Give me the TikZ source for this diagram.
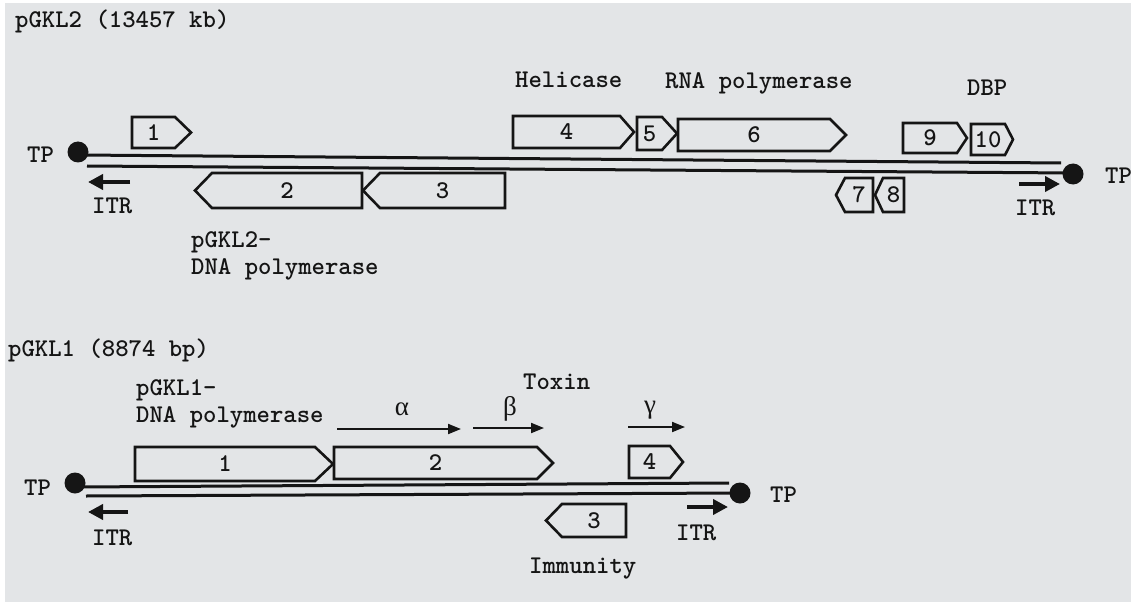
\documentclass[tikz,border=0pt]{standalone}
\usepackage{fontspec}
\usetikzlibrary{arrows.meta}
\newfontfamily\greekfont{Liberation Serif}
\definecolor{ink}{HTML}{151515}
\definecolor{paper}{HTML}{E3E5E7}
\tikzset{
  txt/.style={font=\ttfamily\bfseries\fontsize{25.5}{28}\selectfont, text=ink, inner sep=0pt, anchor=base west},
  greek/.style={font=\greekfont\fontsize{27}{30}\selectfont, text=ink, inner sep=0pt},
  genebox/.style={draw=ink, line width=2.6pt, line join=miter},
  genelabel/.style={font=\ttfamily\bfseries\fontsize{25.5}{28}\selectfont, text=ink, inner sep=0pt},
  strand/.style={draw=ink, line width=3pt},
  tpdot/.style={circle, fill=ink, inner sep=0pt, minimum size=21pt},
  itr/.style={draw=ink, line width=4.5pt, -{Triangle[length=15pt,width=15pt]}},
  orf/.style={draw=ink, line width=2pt, -{Triangle[length=13pt,width=10pt]}}
}
% forward gene: name, x left, x body end, x tip, y top, y bottom, label
\newcommand\fgene[7]{%
  \draw[genebox] (#2,#5) -- (#3,#5) -- (#4,{(#5+#6)/2}) -- (#3,#6) -- (#2,#6) -- cycle;
  \node[genelabel] (#1) at ({(#2+#3)/2},{(#5+#6)/2}) {#7};}
% reverse gene: name, x tip, x body start, x right, y top, y bottom, label
\newcommand\rgene[7]{%
  \draw[genebox] (#4,#5) -- (#3,#5) -- (#2,{(#5+#6)/2}) -- (#3,#6) -- (#4,#6) -- cycle;
  \node[genelabel] (#1) at ({(#3+#4)/2},{(#5+#6)/2}) {#7};}
\begin{document}
\begin{tikzpicture}[x=1pt,y=-1pt]
\useasboundingbox (0,0) rectangle (1131,604);
\fill[white] (0,0) rectangle (1131,604);
\fill[paper] (5,3) rectangle (1131,602);

% ================= pGKL2 =================
\node[txt] (t2) at (15,28) {pGKL2 (13457 kb)};
\node[txt] (hel) at (515,88) {Helicase};
\node[txt] (rnap) at (665,89) {RNA polymerase};
\node[txt] (dbp) at (967,96) {DBP};
\node[txt] (pol2a) at (191,247) {pGKL2-};
\node[txt] (pol2b) at (191,274) {DNA polymerase};
\node[txt] (tp2l) at (27,163) {TP};
\node[txt] (itr2l) at (92,213) {ITR};
\node[txt] (tp2r) at (1105,183) {TP};
\node[txt] (itr2r) at (1015,215) {ITR};

\node[tpdot] (d2l) at (78,152) {};
\node[tpdot] (d2r) at (1073,174) {};
\coordinate (s2ta) at (80,155);
\coordinate (s2tb) at (1061,163);
\coordinate (s2ba) at (87,166);
\coordinate (s2bb) at (1073,173);
\draw[strand] (s2ta) -- (s2tb);
\draw[strand] (s2ba) -- (s2bb);

\coordinate (i2la) at (130,182); \coordinate (i2lb) at (88,182);
\coordinate (i2ra) at (1019,184); \coordinate (i2rb) at (1060,184);
\draw[itr] (i2la) -- (i2lb);
\draw[itr] (i2ra) -- (i2rb);

\fgene{g1}{132}{175}{191}{117}{148}{1}
\fgene{g4}{513}{620}{634}{116}{148}{4}
\fgene{g5}{637}{662}{677}{117}{150}{5}
\fgene{g6}{678}{830}{846}{119}{151}{6}
\fgene{g9}{903}{957}{967}{123}{153}{9}
\fgene{g10}{971}{1005}{1013}{124}{155}{10}
\rgene{g2}{195}{212}{362}{173}{208}{2}
\rgene{g3}{363}{380}{505}{173}{208}{3}
\rgene{g7}{836}{845}{873}{178}{212}{7}
\rgene{g8}{875}{883}{904}{178}{212}{8}

% ================= pGKL1 =================
\node[txt] (t1) at (8,356) {pGKL1 (8874 bp)};
\node[txt] (pol1a) at (136,395) {pGKL1-};
\node[txt] (pol1b) at (136,422) {DNA polymerase};
\node[txt] (tox) at (523,389) {Toxin};
\node[txt] (imm) at (529,573) {Immunity};
\node[txt] (tp1l) at (24,495) {TP};
\node[txt] (itr1l) at (92,545) {ITR};
\node[txt] (tp1r) at (770,502) {TP};
\node[txt] (itr1r) at (676,540) {ITR};
\node[greek] (al) at (402,409) {α};
\node[greek] (be) at (510,409) {β};
\node[greek] (ga) at (650,410) {γ};

\coordinate (aa) at (337,429); \coordinate (ab) at (461,429);
\coordinate (ba) at (473,428); \coordinate (bb) at (544,428);
\coordinate (ca) at (628,427); \coordinate (cb) at (685,427);
\draw[orf] (aa) -- (ab);
\draw[orf] (ba) -- (bb);
\draw[orf] (ca) -- (cb);

\node[tpdot] (d1l) at (75,483) {};
\node[tpdot] (d1r) at (740,493) {};
\coordinate (s1ta) at (78,487);
\coordinate (s1tb) at (729,483);
\coordinate (s1ba) at (86,496);
\coordinate (s1bb) at (740,493);
\draw[strand] (s1ta) -- (s1tb);
\draw[strand] (s1ba) -- (s1bb);

\coordinate (i1la) at (128,512); \coordinate (i1lb) at (88,512);
\coordinate (i1ra) at (687,507); \coordinate (i1rb) at (728,507);
\draw[itr] (i1la) -- (i1lb);
\draw[itr] (i1ra) -- (i1rb);

\fgene{h1}{135}{315}{333}{447}{481}{1}
\fgene{h2}{334}{537}{553}{447}{479}{2}
\fgene{h4}{629}{670}{683}{446}{478}{4}
\rgene{h3}{546}{562}{626}{504}{537}{3}
\end{tikzpicture}
\end{document}
